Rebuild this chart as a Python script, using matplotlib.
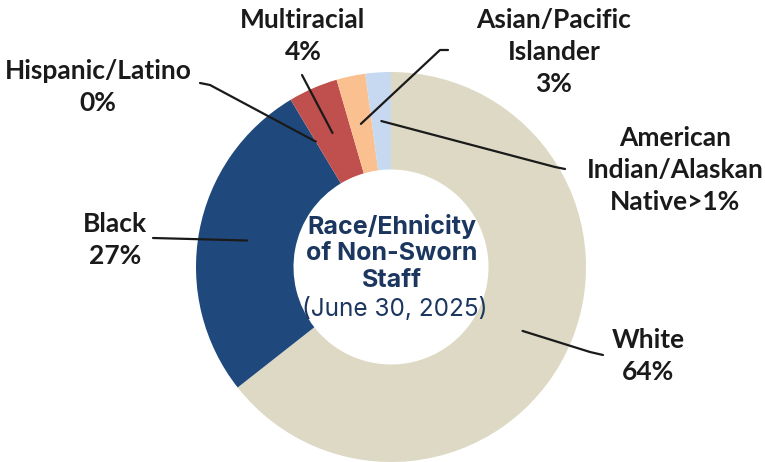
import numpy as np
import matplotlib
matplotlib.use("Agg")
import matplotlib.pyplot as plt

# Datos del grafico (porcentajes)
categorias = ["White", "Black", "Hispanic/Latino", "Multiracial",
              "Asian/Pacific Islander", "American Indian/Alaskan Native"]
valores = [64.4, 27.0, 0.0, 4.1, 2.4, 2.1]
etiquetas = ["White\n64%", "Black\n27%", "Hispanic/Latino\n0%", "Multiracial\n4%",
             "Asian/Pacific\nIslander\n3%", "American\nIndian/Alaskan\nNative>1%"]
colores = ["#DDD9C4", "#1F497D", "#C0504D", "#C0504D", "#FAC090", "#C6D9F1"]

titulo = "Race/Ehnicity\nof Non-Sworn\nStaff"
fecha = "(June 30, 2025)"

W, H = 765, 462


def px(x, y):
    # convierte coordenadas de pixel (origen arriba) a coordenadas del eje
    return x, H - y


fig = plt.figure(figsize=(W / 100, H / 100), dpi=100)
ax = fig.add_axes([0, 0, 1, 1])

centro = px(391, 267)
radio = 195
wedges, _ = ax.pie(valores, colors=colores, startangle=90, counterclock=False,
                   center=centro, radius=radio, frame=True,
                   wedgeprops=dict(width=radio * 0.5, linewidth=0))
ax.set_xlim(0, W)
ax.set_ylim(0, H)
ax.set_aspect("equal")
ax.axis("off")

# Posicion de cada etiqueta y recorrido de su linea guia (pixeles)
pos_texto = [(648, 356), (115, 240), (98, 87), (303, 36), (554, 52), (675, 170)]
guias = [
    [(603, 355), (590, 352)],
    [(153, 238)],
    [(200, 83), (210, 85)],
    [(302, 75)],
    [(448, 50), (440, 50)],
    [(565, 169), (555, 167)],
]

for w, txt, pt, guia in zip(wedges, etiquetas, pos_texto, guias):
    ang = np.deg2rad((w.theta1 + w.theta2) / 2)
    ancla = (centro[0] + 0.75 * radio * np.cos(ang), centro[1] + 0.75 * radio * np.sin(ang))
    puntos = [px(*p) for p in guia] + [ancla]
    xs, ys = zip(*puntos)
    ax.plot(xs, ys, color="#1a1a1a", lw=1.6, solid_capstyle="round", zorder=3)
    ax.text(*px(*pt), txt, ha="center", va="center", fontsize=19,
            fontweight="bold", family="Lato", color="#1a1a1a", linespacing=1.4)

ax.text(*px(392, 253), titulo, ha="center", va="center", fontsize=18,
        fontweight="bold", family="Inter", color="#1B365F", linespacing=1.22)
ax.text(*px(395, 309), fecha, ha="center", va="center", fontsize=17.5,
        fontweight="normal", family="Inter", color="#1B365F")

fig.savefig("out.png", dpi=100)
